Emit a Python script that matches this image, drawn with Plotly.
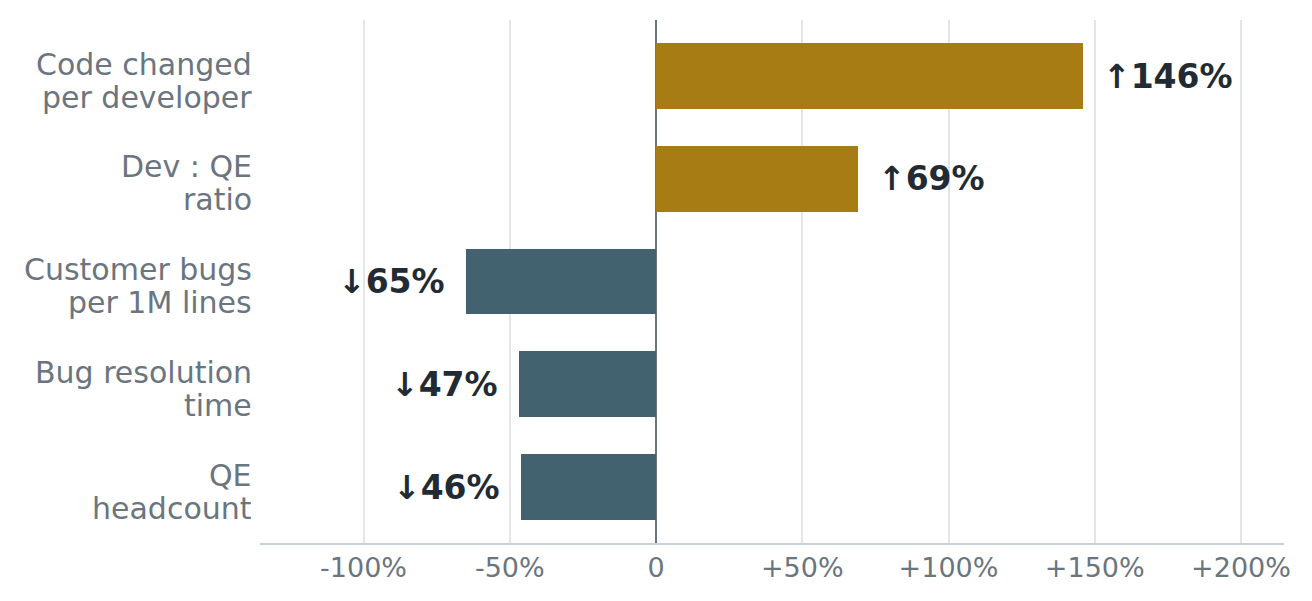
import plotly.graph_objects as go

# metrics, top to bottom
metrics = ["Code changed<br>per developer", "Dev : QE<br>ratio",
           "Customer bugs<br>per 1M lines", "Bug resolution<br>time", "QE<br>headcount"]
change = [146, 69, -65, -47, -46]

tick_vals = [-100, -50, 0, 50, 100, 150, 200]
tick_text = ["-100%", "-50%", "0", "+50%", "+100%", "+150%", "+200%"]

GOLD = "#a87c14"
SLATE = "#42626f"
INK = "#222b33"
GREY = "#6b7580"

colors = [GOLD if v > 0 else SLATE for v in change]

fig = go.Figure()
fig.add_trace(go.Bar(
    x=change, y=metrics, orientation="h",
    marker=dict(color=colors, line=dict(width=0)),
    width=0.64, hoverinfo="skip",
))

# value labels next to the bar ends
for m, v in zip(metrics, change):
    arrow = "↑" if v > 0 else "↓"
    fig.add_annotation(
        x=v, y=m, text="<b>%s%d%%</b>" % (arrow, abs(v)), showarrow=False,
        xanchor="left" if v > 0 else "right",
        xshift=18 if v > 0 else -19,
        font=dict(size=33, color=INK, family="DejaVu Sans"),
    )

# category labels drawn line by line (tighter line spacing than tick labels)
for m in metrics:
    lines = m.split("<br>")
    for k, line in enumerate(lines):
        fig.add_annotation(
            x=0, xref="paper", y=m, yref="y", text=line, showarrow=False,
            xanchor="right", xshift=-6, yshift=12 - 33 * k,
            font=dict(size=30, color=GREY, family="DejaVu Sans"),
        )

# page has an 8px body margin, so the figure is a bit smaller than the window
fig.update_layout(
    width=1304, height=593,
    margin=dict(l=252, r=28, t=12, b=58),
    plot_bgcolor="white", paper_bgcolor="white",
    showlegend=False,
    font=dict(family="DejaVu Sans", size=27, color=GREY),
    bargap=0,
)
fig.update_xaxes(
    range=[-135.4, 214.7], tickvals=tick_vals, ticktext=tick_text,
    showgrid=True, gridcolor="#e3e6e9", gridwidth=2,
    zeroline=True, zerolinecolor=GREY, zerolinewidth=2,
    showline=True, linecolor="#c8d0d8", linewidth=2,
    ticks="", tickfont=dict(size=27, color=GREY),
)
fig.update_yaxes(
    range=[4.545, -0.545], showgrid=False, zeroline=False, showline=False,
    ticks="", showticklabels=False,
)

fig.write_html("out.html")
